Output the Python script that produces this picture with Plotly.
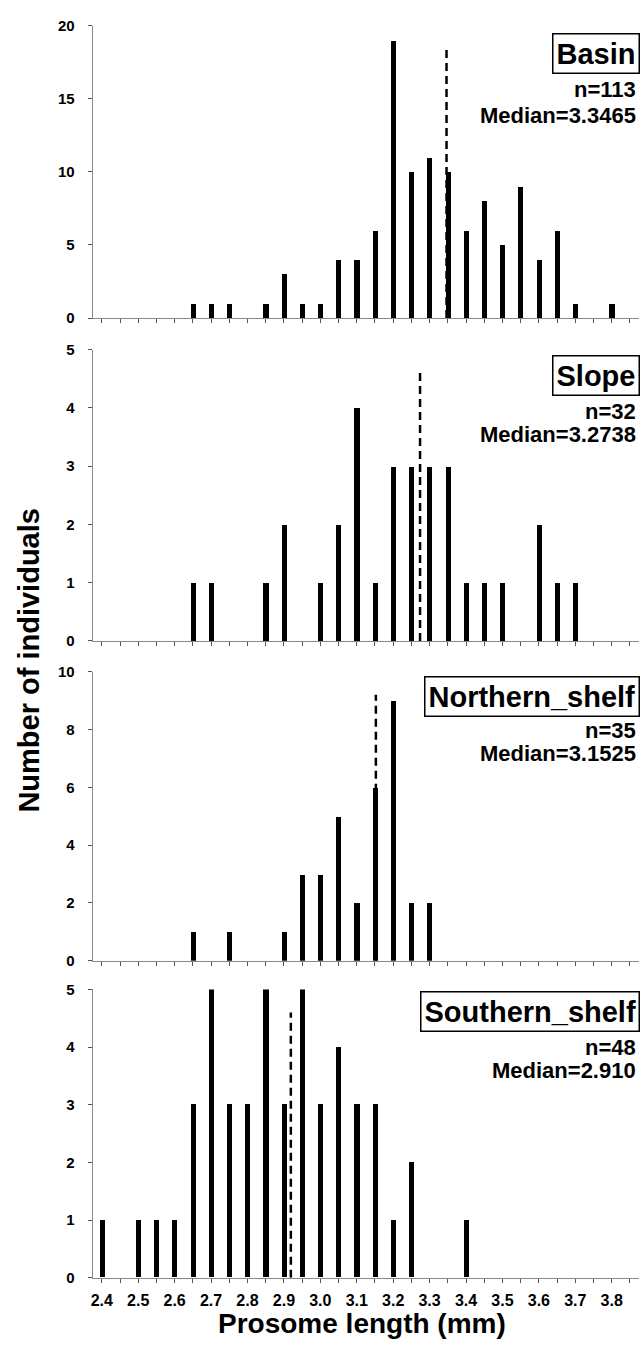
import plotly.graph_objects as go

# ---------------- data ----------------
bins = [2.40, 2.45, 2.50, 2.55, 2.60, 2.65, 2.70, 2.75, 2.80, 2.85,
        2.90, 2.95, 3.00, 3.05, 3.10, 3.15, 3.20, 3.25, 3.30, 3.35,
        3.40, 3.45, 3.50, 3.55, 3.60, 3.65, 3.70, 3.75, 3.80, 3.85]

basin = [0, 0, 0, 0, 0, 1, 1, 1, 0, 1, 3, 1, 1, 4, 4, 6, 19, 10, 11, 10,
         6, 8, 5, 9, 4, 6, 1, 0, 1, 0]
slope = [0, 0, 0, 0, 0, 1, 1, 0, 0, 1, 2, 0, 1, 2, 4, 1, 3, 3, 3, 3,
         1, 1, 1, 0, 2, 1, 1, 0, 0, 0]
northern_shelf = [0, 0, 0, 0, 0, 1, 0, 1, 0, 0, 1, 3, 3, 5, 2, 6, 9, 2, 2, 0,
                  0, 0, 0, 0, 0, 0, 0, 0, 0, 0]
southern_shelf = [1, 0, 1, 1, 1, 3, 5, 3, 3, 5, 3, 5, 3, 4, 3, 3, 1, 2, 0, 0,
                  1, 0, 0, 0, 0, 0, 0, 0, 0, 0]

panel_names = ["Basin", "Slope", "Northern_shelf", "Southern_shelf"]
panel_n = ["n=113", "n=32", "n=35", "n=48"]
panel_median_text = ["Median=3.3465", "Median=3.2738", "Median=3.1525", "Median=2.910"]
median_line_x = [3.3465, 3.2738, 3.1525, 2.919]
median_line_top = [18.4, 4.6, 9.2, 4.6]
y_max = [20, 5, 10, 5]
y_dtick = [5, 1, 2, 1]

x_tick_labels = ["2.4", "", "2.5", "", "2.6", "", "2.7", "", "2.8", "", "2.9", "",
                 "3.0", "", "3.1", "", "3.2", "", "3.3", "", "3.4", "", "3.5", "",
                 "3.6", "", "3.7", "", "3.8", ""]

series = [basin, slope, northern_shelf, southern_shelf]

# ---------------- layout helpers ----------------
W, H = 641, 1348
def px(x):
    return x / W
def py(y):
    return 1 - y / H

# panel pixel extents (top, bottom)
panel_px = [(17, 313), (345, 640), (671, 964), (993, 1285)]
box_y = [45.5, 371.5, 696, 1015.5]
n_y = [82, 408, 731, 1052]
med_y = [108, 431, 754, 1075]

FONT = "Liberation Sans, Arial, sans-serif"
AXCOL = "#8a8a8a"

fig = go.Figure()
layout = dict(
    width=W, height=H,
    margin=dict(l=0, r=0, t=0, b=0),
    paper_bgcolor="white", plot_bgcolor="white",
    showlegend=False,
    bargap=0,
    font=dict(family=FONT, color="black"),
)

annotations = []
for i in range(4):
    k = "" if i == 0 else str(i + 1)
    xa, ya = "x" + k, "y" + k
    fig.add_trace(go.Bar(x=bins, y=series[i], width=0.014,
                         marker=dict(color="black", line=dict(width=0)),
                         xaxis=xa, yaxis=ya))
    fig.add_trace(go.Scatter(x=[median_line_x[i], median_line_x[i]],
                             y=[0, median_line_top[i]], mode="lines",
                             line=dict(color="black", width=2.5, dash="8px,5px"),
                             xaxis=xa, yaxis=ya))
    top, bot = panel_px[i]
    layout["xaxis" + k] = dict(
        domain=[px(91), px(639)], range=[2.375, 3.875], anchor=ya,
        showline=True, linecolor=AXCOL, linewidth=1.2,
        ticks="outside", ticklen=4, tickwidth=1, tickcolor="#555555",
        tickmode="array", tickvals=bins,
        ticktext=x_tick_labels if i == 3 else [""] * len(bins),
        showticklabels=(i == 3),
        tickfont=dict(family=FONT, size=16, weight="bold", color="black"),
        ticklabelstandoff=4,
        showgrid=False, zeroline=False, fixedrange=True,
    )
    layout["yaxis" + k] = dict(
        domain=[py(bot), py(top)], range=[0, y_max[i]], anchor=xa,
        showline=True, linecolor=AXCOL, linewidth=1.2,
        ticks="outside", ticklen=4, tickwidth=1, tickcolor="#555555",
        dtick=y_dtick[i], tick0=0,
        tickfont=dict(family=FONT, size=15, weight="bold", color="black"),
        ticklabelstandoff=10,
        showgrid=False, zeroline=False, fixedrange=True,
    )
    annotations.append(dict(
        xref="paper", yref="paper", x=px(640), y=py(box_y[i]),
        xanchor="right", yanchor="middle", showarrow=False,
        text=panel_names[i],
        font=dict(family=FONT, size=29, weight="bold", color="black"),
        bordercolor="black", borderwidth=1.5, borderpad=3, bgcolor="white"))
    annotations.append(dict(
        xref="paper", yref="paper", x=px(638), y=py(n_y[i]),
        xanchor="right", yanchor="middle", showarrow=False,
        text=panel_n[i],
        font=dict(family=FONT, size=22, weight="bold", color="black")))
    annotations.append(dict(
        xref="paper", yref="paper", x=px(638), y=py(med_y[i]),
        xanchor="right", yanchor="middle", showarrow=False,
        text=panel_median_text[i],
        font=dict(family=FONT, size=22, weight="bold", color="black")))

annotations.append(dict(
    xref="paper", yref="paper", x=px(27), y=py(659),
    xanchor="center", yanchor="middle", showarrow=False, textangle=-90,
    text="Number of individuals",
    font=dict(family=FONT, size=29, weight="bold", color="black")))
annotations.append(dict(
    xref="paper", yref="paper", x=px(361), y=py(1331),
    xanchor="center", yanchor="middle", showarrow=False,
    text="Prosome length (mm)",
    font=dict(family=FONT, size=28, weight="bold", color="black")))

layout["annotations"] = annotations
fig.update_layout(**layout)
fig.write_html("out.html")
